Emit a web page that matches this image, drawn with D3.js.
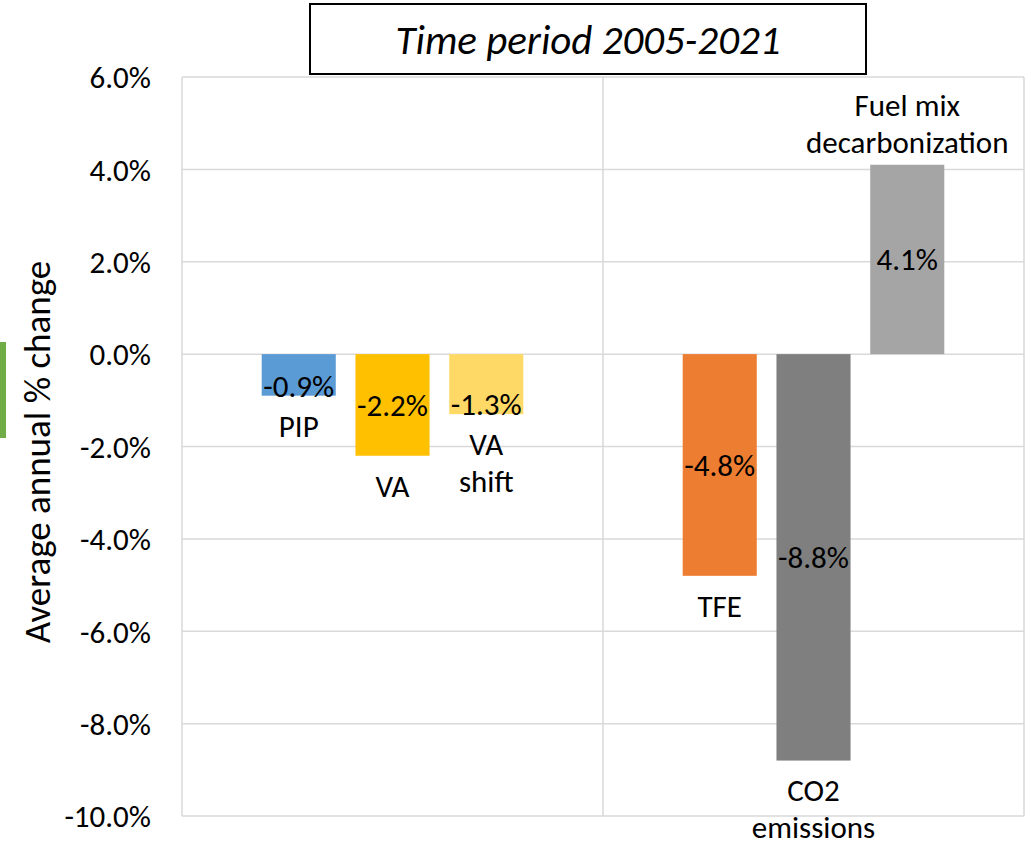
<!DOCTYPE html>
<html>
<head>
<meta charset="utf-8">
<script src="https://cdn.jsdelivr.net/npm/d3@7"></script>
<style>
  body { margin: 0; background: #fff; }
  text { font-family: Carlito, Lato, "Liberation Sans", sans-serif; fill: #000; }
</style>
</head>
<body>
<svg id="chart" width="1028" height="844"></svg>
<script>
// data
var labels = [["PIP"], ["VA"], ["VA", "shift"], ["TFE"], ["CO2", "emissions"], ["Fuel mix", "decarbonization"]];
var values = [-0.9, -2.2, -1.3, -4.8, -8.8, 4.1];
var groups = [0, 0, 0, 1, 1, 1];   // left / right panel
var slots = [0, 1, 2, 0, 1, 2];
var colors = ["#5B9BD5", "#FFC000", "#FFD966", "#ED7D31", "#7F7F7F", "#A5A5A5"];
var yTicks = [6, 4, 2, 0, -2, -4, -6, -8, -10];
var title = "Time period 2005-2021";
var yLabel = "Average annual % change";

var svg = d3.select("#chart");
var plotL = 182, plotR = 1024, plotT = 77, plotB = 816;

var y = d3.scaleLinear().domain([-10, 6]).range([plotB, plotT]);
var xGroup = d3.scaleBand().domain([0, 1]).range([plotL, plotR]);
var xSlot = d3.scaleBand().domain([0, 1, 2])
  .range([0, xGroup.bandwidth()])
  .paddingInner(0.21).paddingOuter(0.85);

function fmt(v) { return v.toFixed(1) + "%"; }

// gridlines
svg.append("g").selectAll("line")
  .data(yTicks)
  .enter().append("line")
  .attr("x1", plotL).attr("x2", plotR)
  .attr("y1", function(d) { return y(d); })
  .attr("y2", function(d) { return y(d); })
  .attr("stroke", "#d9d9d9").attr("stroke-width", 1.5);

// plot frame + panel divider
svg.append("g").selectAll("line")
  .data([plotL, xGroup(1), plotR])
  .enter().append("line")
  .attr("x1", function(d) { return d; }).attr("x2", function(d) { return d; })
  .attr("y1", plotT).attr("y2", plotB)
  .attr("stroke", "#d9d9d9").attr("stroke-width", 1.5);

// y axis labels
var axis = d3.axisLeft(y).tickValues(yTicks).tickFormat(fmt).tickSize(0).tickPadding(0);
var ax = svg.append("g").attr("transform", "translate(151,0)").call(axis);
ax.select(".domain").remove();
ax.selectAll("text")
  .style("font-size", "31px")
  .style("font-family", "Carlito, Lato, 'Liberation Sans', sans-serif")
  .attr("dy", "0.35em");

// axis title
svg.append("text")
  .attr("transform", "translate(37,452) rotate(-90)")
  .attr("text-anchor", "middle")
  .attr("dy", "0.35em")
  .style("font-size", "37px")
  .text(yLabel);

// green marker on left edge
svg.append("rect")
  .attr("x", 0).attr("y", 342).attr("width", 6).attr("height", 96)
  .attr("fill", "#70AD47");

// title box
svg.append("rect")
  .attr("x", 310).attr("y", 4).attr("width", 556).attr("height", 70)
  .attr("fill", "#fff").attr("stroke", "#000").attr("stroke-width", 2);
svg.append("text")
  .attr("x", 588).attr("y", 40).attr("dy", "0.35em")
  .attr("text-anchor", "middle")
  .style("font-size", "41px").style("font-style", "italic")
  .text(title);

var idx = d3.range(values.length);
function barX(i) { return xGroup(groups[i]) + xSlot(slots[i]); }
function barTop(i) { return y(Math.max(0, values[i])); }
function barBot(i) { return y(Math.min(0, values[i])); }

// bars
svg.append("g").selectAll("rect")
  .data(idx)
  .enter().append("rect")
  .attr("x", barX)
  .attr("y", barTop)
  .attr("width", xSlot.bandwidth())
  .attr("height", function(i) { return barBot(i) - barTop(i); })
  .attr("fill", function(i) { return colors[i]; });

// value labels
svg.append("g").selectAll("text")
  .data(idx)
  .enter().append("text")
  .attr("x", function(i) { return barX(i) + xSlot.bandwidth() / 2; })
  .attr("y", function(i) {
    var h = barBot(i) - barTop(i);
    return h < 70 ? barBot(i) - 10 : (barTop(i) + barBot(i)) / 2;
  })
  .attr("dy", "0.35em")
  .attr("text-anchor", "middle")
  .style("font-size", "31px")
  .text(function(i) { return fmt(values[i]); });

// category labels
var cat = svg.append("g").selectAll("text")
  .data(idx)
  .enter().append("text")
  .attr("text-anchor", "middle")
  .style("font-size", "31px")
  .attr("x", function(i) { return barX(i) + xSlot.bandwidth() / 2; })
  .attr("y", function(i) {
    if (values[i] < 0) return barBot(i) + 30;
    return barTop(i) - 20 - 40 * (labels[i].length - 1);
  });
cat.selectAll("tspan")
  .data(function(i) { return labels[i]; })
  .enter().append("tspan")
  .attr("x", function() { return d3.select(this.parentNode).attr("x"); })
  .attr("dy", function(d, k) { return k === 0 ? "0.35em" : 37; })
  .text(function(d) { return d; });
</script>
</body>
</html>
